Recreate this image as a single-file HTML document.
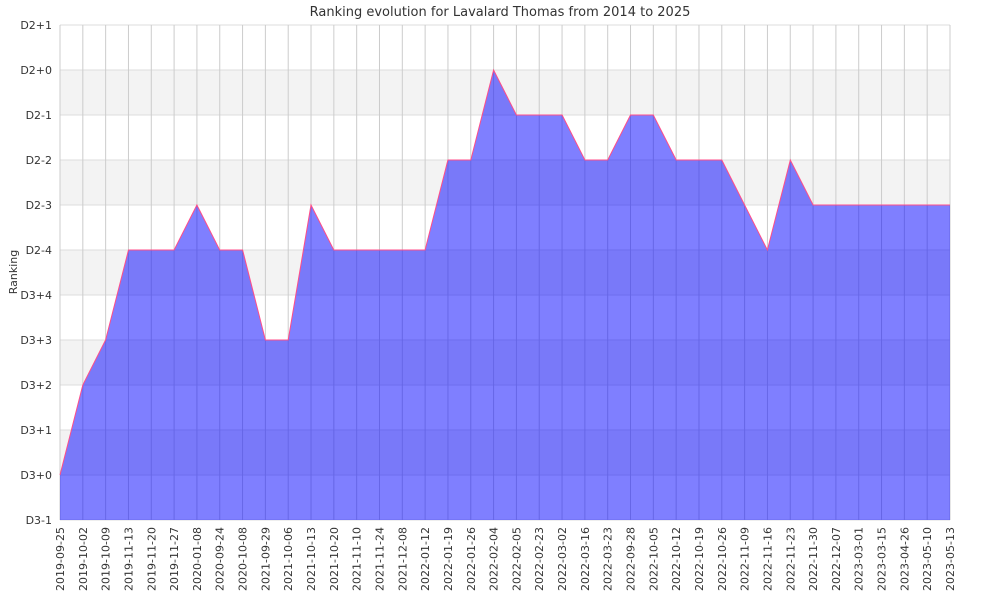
<!DOCTYPE html>
<html><head><meta charset="utf-8"><style>body{margin:0;background:#fff}svg{display:block;font-family:"DejaVu Sans","Liberation Sans",sans-serif}</style></head>
<body>
<svg id="c" width="1000" height="600" xmlns="http://www.w3.org/2000/svg"></svg>
<script>
const s=document.getElementById('c');
const L=60,R=950,T=25,B=520;
const dates=["2019-09-25","2019-10-02","2019-10-09","2019-11-13","2019-11-20","2019-11-27","2020-01-08","2020-09-24","2020-10-08","2021-09-29","2021-10-06","2021-10-13","2021-10-20","2021-11-10","2021-11-24","2021-12-08","2022-01-12","2022-01-19","2022-01-26","2022-02-04","2022-02-05","2022-02-23","2022-03-02","2022-03-16","2022-03-23","2022-09-28","2022-10-05","2022-10-12","2022-10-19","2022-10-26","2022-11-09","2022-11-16","2022-11-23","2022-11-30","2022-12-07","2023-03-01","2023-03-15","2023-04-26","2023-05-10","2023-05-13"];
const ys=[475,385,340,250,250,250,205,250,250,340,340,205,250,250,250,250,250,160,160,70,115,115,115,160,160,115,115,160,160,160,205,250,160,205,205,205,205,205,205,205];
const labs=["D2+1","D2+0","D2-1","D2-2","D2-3","D2-4","D3+4","D3+3","D3+2","D3+1","D3+0","D3-1"];
let h='';
for(let i=0;i<11;i++){const y=T+i*45;if(i%2==1)h+=`<rect x="${L}" y="${y}" width="${R-L}" height="45" fill="#f3f3f3"/>`;}
for(let i=0;i<12;i++){const y=T+i*45;h+=`<line x1="${L}" x2="${R}" y1="${y}" y2="${y}" stroke="#ddd"/>`;h+=`<text x="52" y="${y+4}" font-size="11" text-anchor="end" fill="#333">${labs[i]}</text>`;}
const dx=(R-L)/39;
let pts=[];
for(let i=0;i<40;i++){const x=L+i*dx;h+=`<line x1="${x}" x2="${x}" y1="${T}" y2="${B}" stroke="#ccc"/>`;pts.push(x.toFixed(1)+','+ys[i]);
h+=`<text transform="translate(${x+4},527) rotate(-90)" font-size="11" text-anchor="end" fill="#333">${dates[i]}</text>`;}
h+=`<line x1="${R}" x2="${R}" y1="${T}" y2="${B}" stroke="#ccc"/>`;
h+=`<polygon points="${L},${B} ${pts.join(' ')} ${R},${B}" fill="rgba(0,0,255,0.5)"/>`;
h+=`<polyline points="${pts.join(' ')}" fill="none" stroke="#ff4d88" stroke-width="1"/>`;
h+=`<text x="500" y="16" font-size="13" text-anchor="middle" fill="#333">Ranking evolution for Lavalard Thomas from 2014 to 2025</text>`;
h+=`<text transform="translate(17,272) rotate(-90)" font-size="11" text-anchor="middle" fill="#333">Ranking</text>`;
s.innerHTML=h;
</script>
</body></html>
